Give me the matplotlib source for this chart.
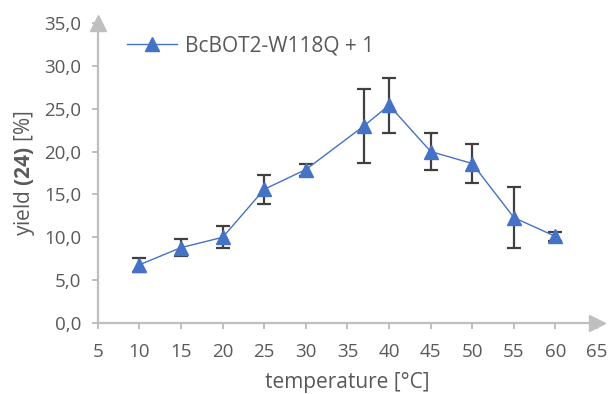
import matplotlib
matplotlib.use("Agg")
import matplotlib.pyplot as plt

plt.rcParams['font.family'] = ['Open Sans', 'DejaVu Sans']
plt.rcParams['mathtext.fontset'] = 'custom'
plt.rcParams['mathtext.rm'] = 'Open Sans'
plt.rcParams['mathtext.bf'] = 'Open Sans:bold'

# data
temps = [10, 15, 20, 25, 30, 37, 40, 45, 50, 55, 60]
yields = [6.8, 8.8, 10.0, 15.6, 17.9, 23.0, 25.4, 20.0, 18.6, 12.3, 10.1]
errs = [0.8, 1.0, 1.3, 1.7, 0.7, 4.3, 3.2, 2.2, 2.3, 3.6, 0.5]
label = "BcBOT2-W118Q + 1"

axis_grey = "#BFBFBF"
text_grey = "#595959"
blue = "#4472C4"

fig = plt.figure(figsize=(6.08, 3.94), dpi=100)
ax = fig.add_axes([0.161, 0.180, 0.821, 0.762])

ax.errorbar(temps, yields, yerr=errs, fmt="none", ecolor="#404040",
            elinewidth=1.6, capsize=5, capthick=1.6, zorder=2)
ax.plot(temps, yields, color=blue, lw=1.0, marker="^", markersize=10,
        markerfacecolor=blue, markeredgecolor=blue, label=label, zorder=3)

ax.set_xlim(5, 65)
ax.set_ylim(0, 35)
ax.set_xticks(range(5, 66, 5))
ax.set_yticks(range(0, 36, 5))
ax.set_yticklabels([f"{v},0" for v in range(0, 36, 5)])

for s in ["top", "right"]:
    ax.spines[s].set_visible(False)
for s in ["left", "bottom"]:
    ax.spines[s].set_color(axis_grey)
    ax.spines[s].set_linewidth(1.6)

ax.tick_params(axis="both", colors=axis_grey, length=4, width=1.4,
               labelcolor=text_grey, labelsize=13.5)
ax.tick_params(axis="x", pad=10)
ax.tick_params(axis="y", pad=8)

# arrow heads at the ends of the axes
ax.plot([0], [1], marker="^", markersize=11, color=axis_grey,
        transform=ax.transAxes, clip_on=False)
ax.plot([1], [0], marker=">", markersize=11, color=axis_grey,
        transform=ax.transAxes, clip_on=False)

ax.set_xlabel("temperature [°C]", color=text_grey, fontsize=15, labelpad=8)
ax.set_ylabel(r"yield $\mathbf{(24)}$ [%]", color=text_grey, fontsize=15,
              labelpad=5)

leg = ax.legend(loc="upper left", bbox_to_anchor=(0.02, 1.02), frameon=False,
                handlelength=2.4, handletextpad=0.4, fontsize=15,
                labelcolor=text_grey)

fig.savefig("out.png", dpi=100)
